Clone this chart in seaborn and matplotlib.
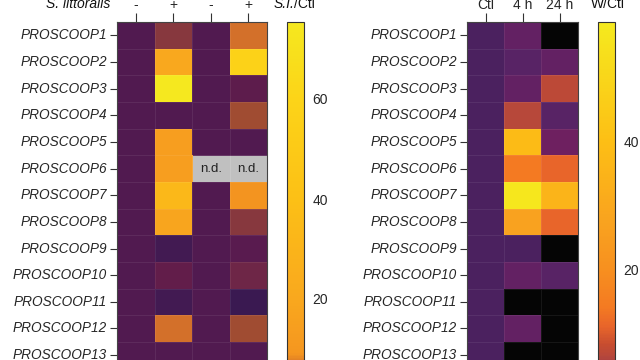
import numpy as np
import pandas as pd
import matplotlib
matplotlib.use("Agg")
import matplotlib.pyplot as plt
import seaborn as sns
from matplotlib.colors import LinearSegmentedColormap

# ---------------- data ----------------
genes = ["PROSCOOP1", "PROSCOOP2", "PROSCOOP3", "PROSCOOP4", "PROSCOOP5",
         "PROSCOOP6", "PROSCOOP7", "PROSCOOP8", "PROSCOOP9", "PROSCOOP10",
         "PROSCOOP11", "PROSCOOP12", "PROSCOOP13"]
nan = np.nan
# S. littoralis experiment: columns "-", "+", "-", "+"
si_labels = ["-", "+", "-", "+"]
si_ctl_a = [1, 1, 1, 1, 1, 1, 1, 1, 1, 1, 1, 1, 1]
si_treat_a = [4.0, 20, 75, 1.0, 14, 14, 33, 18, 0.7, 2.0, 0.8, 6.5, 0.9]
si_ctl_b = [1, 1, 1, 1, 1, nan, 1, 1, 1, 1, 1, 1, 1]
si_treat_b = [6.5, 58, 1.6, 5.0, 1.0, nan, 9, 4.0, 1.3, 2.8, 0.5, 5.0, 0.95]
si_vmax = 75.4
si_ticks = [20, 40, 60]

# Wounding experiment: columns Ctl, 4 h, 24 h
w_labels = ["Ctl", "4 h", "24 h"]
w_ctl = [1, 1, 1, 1, 1, 1, 1, 1, 1, 1, 1, 1, 1]
w_4h = [1.6, 1.2, 1.5, 6.5, 38, 14, 57, 27, 1.1, 1.5, 0.0, 1.6, 0.0]
w_24h = [0.0, 1.6, 7.0, 1.15, 1.8, 11, 35, 11, 0.0, 1.2, 0.0, 0.0, 0.0]
w_vmax = 58.6
w_ticks = [20, 40]

si_df = pd.DataFrame(np.column_stack([si_ctl_a, si_treat_a, si_ctl_b, si_treat_b]),
                     index=genes, columns=range(4))
w_df = pd.DataFrame(np.column_stack([w_ctl, w_4h, w_24h]), index=genes, columns=range(3))

# colour scales (value anchors -> colour)
si_anchors = [(0, "#33174f"), (0.5, "#3e1a52"), (1, "#561a50"), (2, "#651e48"),
              (3, "#732a46"), (4, "#8b3a3c"), (5, "#a8522f"), (6.5, "#d3702a"),
              (9, "#f5961f"), (20, "#f9a81e"), (40, "#fcc016"), (60, "#fcd418"),
              (75.4, "#f5e81f")]
w_anchors = [(0, "#050505"), (1, "#512467"), (1.6, "#6e2060"), (2, "#781f5c"),
             (4, "#9a3848"), (6.5, "#b8483a"), (8, "#c64c30"), (11, "#e8652a"),
             (14, "#f47a22"), (20, "#f7901f"), (27, "#f9a21f"), (40, "#fdbf15"),
             (58.6, "#f5ea1e")]


def make_cmap(anchors, vmax, name):
    return LinearSegmentedColormap.from_list(name, [(v / vmax, c) for v, c in anchors])


si_cmap = make_cmap(si_anchors, si_vmax, "si")
w_cmap = make_cmap(w_anchors, w_vmax, "w")

# ---------------- style ----------------
sns.set_style("white")
plt.rcParams["font.family"] = ["Liberation Sans", "DejaVu Sans"]
plt.rcParams["text.color"] = "#111111"

W, H = 640, 360
fig = plt.figure(figsize=(6.4, 3.6), dpi=100)


def fx(px):
    return px / W


def fy(py):
    return 1 - py / H


row_h = 26.65
top = 22
hm_h = row_h * len(genes)

ax1 = fig.add_axes([fx(117), fy(top + hm_h), 150 / W, hm_h / H])
cax1 = fig.add_axes([fx(287), fy(399), 17 / W, (399 - top) / H])
ax2 = fig.add_axes([fx(467), fy(top + hm_h), 111 / W, hm_h / H])
cax2 = fig.add_axes([fx(598), fy(397), 17 / W, (397 - top) / H])


def draw(ax, cax, df, cmap, vmax, xlabels, ticks):
    sns.heatmap(df, ax=ax, cbar_ax=cax, cmap=cmap, vmin=0, vmax=vmax,
                xticklabels=xlabels, yticklabels=genes,
                linewidths=0.4, linecolor=(1, 1, 1, 0.07))
    ax.set_facecolor("#c0c0c0")
    ax.set_xlabel("")
    ax.set_ylabel("")
    ax.xaxis.tick_top()
    ax.set_xticklabels(xlabels, rotation=0, fontsize=10)
    ax.set_yticklabels(genes, rotation=0, fontsize=9.8, style="italic")
    ax.tick_params(axis="x", top=True, bottom=False, length=6.5, width=0.8,
                   color="#333333", pad=1)
    ax.tick_params(axis="y", left=True, length=5, width=0.8, color="#333333", pad=2)
    for s in ax.spines.values():
        s.set_visible(True)
        s.set_linewidth(0.8)
        s.set_edgecolor("#444444")
    # n.d. annotations for missing cells
    vals = df.values
    for i in range(vals.shape[0]):
        for j in range(vals.shape[1]):
            if np.isnan(vals[i, j]):
                ax.text(j + 0.5, i + 0.5, "n.d.", ha="center", va="center",
                        fontsize=9.5, color="#222222")
    cb = ax.collections[0].colorbar
    cb.outline.set_edgecolor("#333333")
    cb.outline.set_linewidth(0.8)
    cb.set_ticks(ticks)
    cb.set_ticklabels([str(t) for t in ticks])
    cax.tick_params(direction="in", left=True, right=True, labelleft=False,
                    labelright=True, length=3, width=0.8, color="#222222",
                    pad=6, labelsize=10)


draw(ax1, cax1, si_df, si_cmap, si_vmax, si_labels, si_ticks)
draw(ax2, cax2, w_df, w_cmap, w_vmax, w_labels, w_ticks)

# header texts
fig.text(fx(110), fy(4.5), "S. littoralis", ha="right", va="center",
         fontsize=10, style="italic")
fig.text(fx(294.5), fy(4.5), "S.I.", ha="right", va="center", fontsize=10, style="italic")
fig.text(fx(294.5), fy(4.5), "/Ctl", ha="left", va="center", fontsize=10)
fig.text(fx(608), fy(4.5), "W/Ctl", ha="center", va="center", fontsize=10)

fig.savefig("out.png", dpi=100)
